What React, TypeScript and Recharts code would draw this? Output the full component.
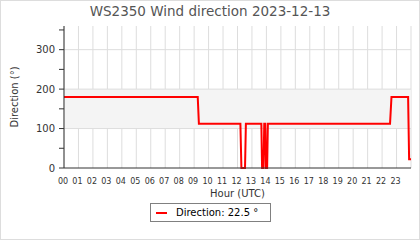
import React from 'react';
import {
  LineChart,
  Line,
  XAxis,
  YAxis,
  CartesianGrid,
  ReferenceArea,
  ReferenceLine,
  Legend,
} from 'recharts';

const titleText = 'WS2350 Wind direction 2023-12-13';
const seriesName = 'Direction';
const unit = '°';

// sample times (hours UTC) and wind direction (degrees)
const hours = [
  0, 9.25, 9.33, 12.2, 12.27, 12.52, 12.58, 13.65, 13.7, 13.8, 13.85, 13.92, 13.97, 14.05, 14.1,
  22.55, 22.65, 23.8, 23.87, 24,
];
const directions = [
  180, 180, 112.5, 112.5, 0, 0, 112.5, 112.5, 0, 0, 112.5, 112.5, 0, 0, 112.5,
  112.5, 180, 180, 22.5, 22.5,
];

const xTicks = [
  0, 1, 2, 3, 4, 5, 6, 7, 8, 9, 10, 11, 12, 13, 14, 15, 16, 17, 18, 19, 20, 21, 22, 23,
];
const yTicks = [0, 50, 100, 150, 200, 250, 300, 350];
const yGridValues = [100, 200, 300];
const bandRange = [100, 200];

const data = hours.map((h, i) => ({ hour: h, dir: directions[i] }));
const lastValue = directions[directions.length - 1];

const FONT = '"DejaVu Sans", Verdana, sans-serif';

const LegendBox = () => (
  <div
    style={{
      boxSizing: 'border-box',
      width: 121,
      height: 19,
      border: '1px solid #808080',
      display: 'flex',
      alignItems: 'center',
      fontFamily: FONT,
      fontSize: 10,
      color: '#000',
      background: '#fff',
    }}
  >
    <div style={{ width: 11, height: 2, background: '#ff0000', marginLeft: 5, marginRight: 9 }} />
    <span style={{ whiteSpace: 'nowrap', lineHeight: '12px' }}>
      {seriesName}: {lastValue} {unit}
    </span>
  </div>
);

export default function App() {
  return (
    <div
      style={{
        position: 'fixed',
        left: 0,
        top: 0,
        width: 420,
        height: 240,
        background: '#fff',
      }}
    >
      <LineChart
        width={420}
        height={240}
        data={data}
        margin={{ top: 26, right: 9, bottom: 0, left: 0 }}
        style={{ fontFamily: FONT }}
      >
        <ReferenceArea
          y1={bandRange[0]}
          y2={bandRange[1]}
          fill="#f4f4f4"
          fillOpacity={1}
          stroke="none"
          ifOverflow="visible"
        />
        <CartesianGrid horizontal={false} stroke="#dddddd" strokeWidth={1} />
        {yGridValues.map((v) => (
          <ReferenceLine key={v} y={v} stroke="#dddddd" strokeWidth={1} />
        ))}
        <XAxis
          dataKey="hour"
          type="number"
          domain={[0, 24]}
          ticks={xTicks}
          interval={0}
          height={72}
          tickLine={false}
          axisLine={{ stroke: '#333', strokeWidth: 1 }}
          tick={{ fontSize: 8, fill: '#333', dx: -1 }}
          tickMargin={4}
          tickFormatter={(v: number) => String(v).padStart(2, '0')}
          label={{ value: 'Hour (UTC)', position: 'insideTop', offset: 22, fontSize: 10, fill: '#333' }}
        />
        <YAxis
          type="number"
          domain={[0, 360]}
          ticks={yTicks}
          interval={0}
          width={64}
          tickSize={5}
          tickMargin={4}
          axisLine={{ stroke: '#333', strokeWidth: 1 }}
          tickLine={{ stroke: '#333' }}
          tick={{ fontSize: 10, fill: '#333' }}
          tickFormatter={(v: number) => (v % 100 === 0 ? String(v) : '')}
          label={{
            value: 'Direction (°)',
            angle: -90,
            position: 'center',
            dx: -18,
            fontSize: 10,
            fill: '#333',
          }}
        />
        <Line
          dataKey="dir"
          name={seriesName}
          type="linear"
          stroke="#ff0000"
          strokeWidth={2}
          dot={false}
          isAnimationActive={false}
        />
        <Legend
          verticalAlign="middle"
          align="center"
          layout="horizontal"
          wrapperStyle={{ position: 'absolute', top: 203, left: 150, width: 121, height: 19 }}
          content={() => <LegendBox />}
        />
        <text
          x={210}
          y={16}
          textAnchor="middle"
          fontSize={13.5}
          fill="#555"
          fontFamily={FONT}
        >
          {titleText}
        </text>
      </LineChart>
      <div
        style={{
          position: 'absolute',
          left: 0,
          top: 0,
          width: 420,
          height: 240,
          boxSizing: 'border-box',
          border: '1px solid #dddddd',
          pointerEvents: 'none',
        }}
      />
    </div>
  );
}
